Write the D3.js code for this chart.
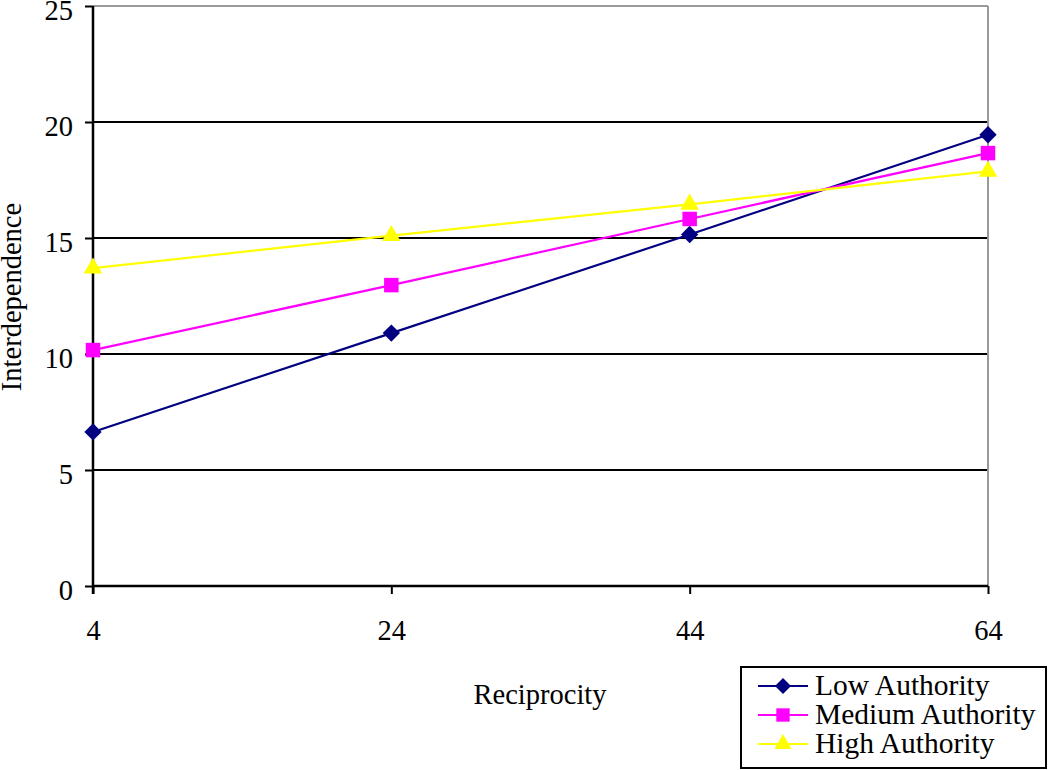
<!DOCTYPE html>
<html><head><meta charset="utf-8">
<script src="https://cdn.jsdelivr.net/npm/d3@7"></script>
<style>body{margin:0;background:#fff}</style>
</head><body>
<svg id="c" width="1050" height="770"></svg>
<script>
const categories = [4, 24, 44, 64];
const seriesNames = ["Low Authority", "Medium Authority", "High Authority"];
const lowValues = [6.64, 10.9, 15.15, 19.45];
const mediumValues = [10.17, 12.97, 15.82, 18.66];
const highValues = [13.7, 15.1, 16.45, 17.87];
const yTicks = [0, 5, 10, 15, 20, 25];
const colors = ["#000080", "#FF00FF", "#FFFF00"];
const series = [lowValues, mediumValues, highValues];

const svg = d3.select("#c");
const font = "'Liberation Serif','Times New Roman',serif";
const FS = 28.5;
const L = 93, R = 988, T = 6, B = 586;
const x = d3.scalePoint().domain(categories).range([L, R]);
const y = d3.scaleLinear().domain([0, 25]).range([B, T]);

function marker(sel, s, scale) {
  scale = scale || 1;
  if (s === 0) sel.attr("d", d3.symbol().type(d3.symbolSquare).size(150 * scale)()).attr("transform", function () { return d3.select(this).attr("transform") + " rotate(45)"; });
  else if (s === 1) sel.attr("d", d3.symbol().type(d3.symbolSquare).size(210 * scale)());
  else sel.attr("d", d3.symbol().type(d3.symbolTriangle).size(150 * scale)());
}

// gridlines
svg.append("g").selectAll("line").data(yTicks.filter(v => v > 0 && v < 25)).join("line")
  .attr("x1", L).attr("x2", R).attr("y1", d => y(d)).attr("y2", d => y(d))
  .attr("stroke", "#000").attr("stroke-width", 2);
svg.append("line").attr("x1", L).attr("x2", R).attr("y1", y(25)).attr("y2", y(25)).attr("stroke", "#999").attr("stroke-width", 2);
svg.append("line").attr("x1", R).attr("x2", R).attr("y1", T).attr("y2", B).attr("stroke", "#999").attr("stroke-width", 2);

// y axis
const yAxis = svg.append("g").attr("transform", `translate(${L},0)`)
  .call(d3.axisLeft(y).tickValues(yTicks).tickSize(8).tickPadding(12).tickFormat(d3.format("d")));
yAxis.select(".domain").attr("stroke", "#000").attr("stroke-width", 2.5).attr("d", `M0,${T}V${B + 8}`);
yAxis.selectAll(".tick line").attr("stroke", "#000").attr("stroke-width", 2);
yAxis.selectAll("text").attr("font-family", font).attr("font-size", FS).attr("fill", "#000").attr("dy", "0.47em");

// x axis
const xAxis = svg.append("g").attr("transform", `translate(0,${B})`)
  .call(d3.axisBottom(x).tickSize(8).tickPadding(26));
xAxis.select(".domain").attr("stroke", "#000").attr("stroke-width", 2.5).attr("d", `M${L},0H${R}`);
xAxis.selectAll(".tick line").attr("stroke", "#000").attr("stroke-width", 2);
xAxis.selectAll("text").attr("font-family", font).attr("font-size", FS).attr("fill", "#000");

// axis titles
svg.append("text").attr("x", 540).attr("y", 704).attr("text-anchor", "middle")
  .attr("font-family", font).attr("font-size", FS).text("Reciprocity");
svg.append("text").attr("transform", "translate(21,297) rotate(-90)").attr("text-anchor", "middle")
  .attr("font-family", font).attr("font-size", FS).text("Interdependence");

// lines and markers
const line = d3.line().x((d, i) => x(categories[i])).y(d => y(d));
series.forEach((vals, s) => {
  svg.append("path").datum(vals).attr("d", line).attr("fill", "none")
    .attr("stroke", colors[s]).attr("stroke-width", 2.2);
});
series.forEach((vals, s) => {
  svg.append("g").selectAll("path").data(vals).join("path")
    .attr("transform", (d, i) => `translate(${x(categories[i])},${y(d)})`)
    .attr("fill", colors[s])
    .each(function () { marker(d3.select(this), s); });
});

// legend
const lg = svg.append("g");
lg.append("rect").attr("x", 741).attr("y", 667).attr("width", 305).attr("height", 101)
  .attr("fill", "#fff").attr("stroke", "#000").attr("stroke-width", 2);
seriesNames.forEach((n, i) => {
  const cy = 686 + i * 29;
  lg.append("line").attr("x1", 758).attr("x2", 808).attr("y1", cy).attr("y2", cy)
    .attr("stroke", colors[i]).attr("stroke-width", 2.2);
  lg.append("path").attr("transform", `translate(783,${cy})`).attr("fill", colors[i])
    .each(function () { marker(d3.select(this), i, 0.85); });
  lg.append("text").attr("x", 815).attr("y", cy + 9).attr("font-family", font).attr("font-size", 29.5).text(n);
});
</script>
</body></html>
